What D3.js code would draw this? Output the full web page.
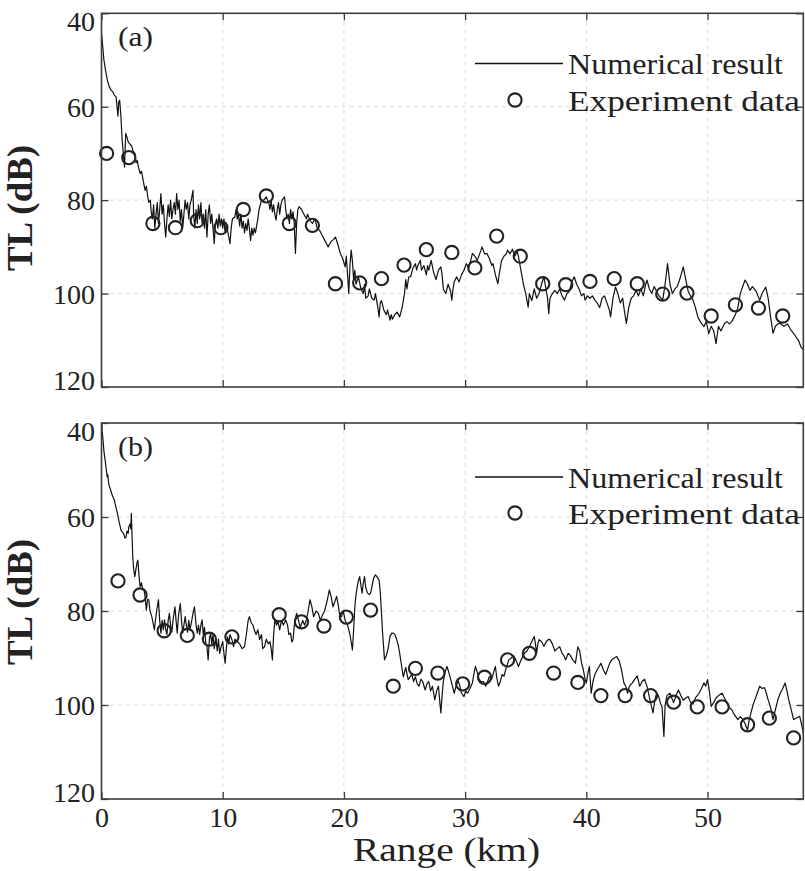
<!DOCTYPE html>
<html><head><meta charset="utf-8">
<script src="https://cdn.jsdelivr.net/npm/d3@7"></script>
<style>
html,body{margin:0;padding:0;background:#fff;}
svg{display:block;}
text{font-family:"Liberation Serif","DejaVu Serif",serif;fill:#222;}
</style>
</head><body>
<svg id="c" width="805" height="871"></svg>
<script>
const xTicks=[0,10,20,30,40,50];
const yTicks=[40,60,80,100,120];
const legendLabels=["Numerical result","Experiment data"];
const panelLabels=["(a)","(b)"];
const xLabel="Range (km)";
const yLabel="TL (dB)";

const numA=[[0,44.3],[0.1,47],[0.2,50],[0.35,52.5],[0.5,54.5],[0.64,55.7],[0.8,56.5],[0.93,56.8],[1.05,57.5],[1.2,57.9],[1.3,60.5],[1.36,62],[1.42,59],[1.5,58.6],[1.6,62],[1.7,67],[1.8,70],[1.9,72.9],[1.95,69],[2.0,65.7],[2.1,66.5],[2.2,67.5],[2.35,68],[2.5,68.5],[2.6,69.5],[2.76,70],[2.85,72],[2.95,71.5],[3.05,73],[3.2,74.3],[3.3,73.8],[3.45,76],[3.6,77.9],[3.7,77],[3.8,79],[3.9,80.5],[4.03,80],[4.1,82.5],[4.2,84],[4.3,81],[4.4,86],[4.5,83],[4.6,80.5],[4.7,85],[4.8,82],[4.9,78.6],[5.0,83],[5.1,81],[5.2,85],[5.3,87.9],[5.4,84],[5.5,81],[5.6,83.5],[5.7,80],[5.8,84],[5.9,82],[6.0,80.5],[6.1,83],[6.2,78.6],[6.3,82],[6.4,80],[6.5,84.5],[6.6,82],[6.7,86],[6.8,83],[6.9,80],[7.0,82],[7.1,80.5],[7.2,84],[7.3,81],[7.4,80],[7.55,77.9],[7.6,83],[7.7,86],[7.8,82],[7.9,85],[8.0,81],[8.1,84],[8.2,80.5],[8.3,85],[8.4,83],[8.5,86],[8.6,82],[8.7,87.9],[8.8,83],[8.9,81],[9.0,85],[9.1,83],[9.2,86],[9.3,89.3],[9.4,85],[9.5,84],[9.6,86],[9.7,83],[9.8,85.5],[9.9,84],[10.0,86],[10.1,84],[10.2,87],[10.3,85],[10.4,86.5],[10.6,89.3],[10.7,86],[10.8,84],[11.0,83.6],[11.1,82],[11.2,84],[11.3,83],[11.4,85.5],[11.5,83],[11.6,86],[11.7,84.5],[11.8,87],[11.9,85],[12.0,86.5],[12.1,84],[12.2,86],[12.3,88.6],[12.4,86],[12.5,87.5],[12.6,86],[12.7,87],[12.9,84],[13.0,82],[13.2,80],[13.4,80],[13.6,79.3],[13.7,80],[13.8,80.5],[13.9,82],[14.0,80],[14.1,82.5],[14.2,81],[14.3,83],[14.4,84.3],[14.5,82],[14.6,80.5],[14.7,83],[14.8,81],[14.9,80],[15.1,79.3],[15.2,82],[15.3,84],[15.4,83],[15.5,85],[15.6,82],[15.7,84],[15.8,82.5],[15.9,85],[16.0,91.4],[16.1,85],[16.2,82],[16.3,81.4],[16.5,82],[16.7,83],[16.9,84],[17.0,83],[17.2,84.3],[17.4,85],[17.6,84],[17.8,86],[18.0,86.5],[18.2,87.5],[18.4,88.5],[18.6,89.5],[18.7,90],[18.9,89],[19.1,88.5],[19.3,87.9],[19.5,89.5],[19.7,91.4],[19.9,92.5],[20.1,94.3],[20.2,92],[20.3,96],[20.4,100],[20.5,94],[20.6,90.7],[20.7,93],[20.8,97],[20.9,95],[21.0,98],[21.2,96.4],[21.4,99],[21.6,100],[21.7,98],[21.8,101],[22.0,100.5],[22.1,99],[22.3,101],[22.5,101.4],[22.6,100],[22.8,103],[22.9,105],[23.0,102],[23.1,101.5],[23.3,103.6],[23.5,104.5],[23.6,103.5],[23.8,105.7],[23.9,104.5],[24.0,105.5],[24.2,104.5],[24.4,104],[24.6,105],[24.8,103],[25.0,100],[25.1,97],[25.2,99],[25.35,96.4],[25.5,96.4],[25.7,94.5],[25.9,93.6],[26.0,95],[26.1,94],[26.3,92.9],[26.4,95],[26.6,94],[26.8,96],[26.9,94],[27.0,95],[27.2,92.9],[27.4,95.5],[27.6,97],[27.8,95],[28.0,94.3],[28.1,96],[28.2,99],[28.4,100],[28.6,98],[28.8,99.5],[28.9,101.4],[29.0,99],[29.1,97.5],[29.3,96.4],[29.5,97.5],[29.7,96],[29.9,95],[30.1,93.6],[30.3,94.5],[30.5,92.5],[30.6,91.4],[30.8,92],[31.0,92.9],[31.2,91.5],[31.4,90],[31.6,91.5],[31.8,91.4],[32.0,92.5],[32.2,94],[32.3,93.6],[32.5,96],[32.7,97.9],[32.8,96],[33.0,93],[33.2,92],[33.4,91.5],[33.5,90.7],[33.7,91.5],[33.9,90.5],[34.1,92],[34.3,91],[34.4,92.1],[34.6,95],[34.8,97.9],[35.0,100],[35.2,102.9],[35.3,100],[35.5,101.5],[35.7,99],[35.9,101],[36.1,100],[36.3,98],[36.5,96.4],[36.6,98],[36.8,101],[36.9,104.3],[37.0,101],[37.2,100],[37.4,99.3],[37.6,100],[37.8,99],[38.0,100.5],[38.2,101.4],[38.4,100],[38.6,99.5],[38.8,97.5],[39.0,96.4],[39.2,98],[39.4,99],[39.6,100.5],[39.8,100],[39.9,101.4],[40.1,100.5],[40.3,101],[40.5,100.5],[40.7,101.4],[40.9,102],[41.1,103],[41.3,101],[41.5,100.5],[41.7,102],[41.9,103.5],[42.0,105],[42.2,101],[42.4,98.6],[42.6,100],[42.8,102],[43.0,101],[43.1,103],[43.3,106.4],[43.5,103],[43.7,101],[43.9,100.5],[44.1,99.3],[44.3,100.5],[44.5,99],[44.7,100.5],[44.9,98],[45.0,97.1],[45.2,99],[45.4,100],[45.6,98.5],[45.8,99.5],[46.0,100.5],[46.3,101.4],[46.5,98],[46.7,93.6],[46.9,98],[47.1,100],[47.3,99],[47.5,98.5],[47.7,97],[48.0,94.3],[48.2,97],[48.4,99.5],[48.6,100.5],[48.8,101.4],[49.0,103],[49.2,105],[49.4,106],[49.7,107.1],[49.9,106],[50.1,108.6],[50.3,107],[50.5,107.9],[50.7,110.7],[50.9,107],[51.1,108],[51.4,106.4],[51.6,106],[51.8,106.5],[52.0,106],[52.3,104.5],[52.5,103],[52.7,100],[52.9,98.5],[53.1,97.1],[53.3,98],[53.5,99.3],[53.7,98.5],[54.0,99.5],[54.3,101.4],[54.5,100],[54.8,98.6],[55.0,101],[55.2,105],[55.4,108.5],[55.6,107],[55.8,106.5],[56.0,106.4],[56.3,107],[56.6,106.5],[56.9,107.9],[57.1,108.5],[57.3,109.3],[57.5,110],[57.7,111.4],[57.9,112]];
const expA=[[0.42,70],[2.25,70.9],[4.24,85],[6.1,85.9],[7.9,84.4],[9.85,85.9],[11.7,82],[13.6,79.1],[15.5,85],[17.4,85.4],[19.3,97.9],[21.3,97.7],[23.1,96.8],[24.96,93.9],[26.8,90.6],[28.9,91.2],[30.8,94.5],[32.6,87.7],[34.55,92],[36.4,97.9],[38.3,98.1],[40.3,97.4],[42.3,96.8],[44.2,97.9],[46.3,100.1],[48.3,99.9],[50.3,104.8],[52.3,102.4],[54.2,103.1],[56.2,104.8]];

const numB=[[0,40.5],[0.06,42],[0.13,43.7],[0.2,46],[0.3,47.9],[0.4,50],[0.47,51.5],[0.52,51],[0.6,53],[0.76,54.3],[0.9,55.5],[1.06,56.4],[1.2,58],[1.31,59.2],[1.45,61],[1.61,62.8],[1.72,63.2],[1.82,63.5],[1.93,64.5],[2.03,64.2],[2.1,63],[2.2,63.5],[2.25,62.1],[2.35,61.5],[2.42,62.5],[2.46,59.2],[2.52,64],[2.58,68.5],[2.65,71],[2.75,72.7],[2.85,71],[2.95,69.5],[3.0,69.2],[3.08,72],[3.18,74.8],[3.3,74],[3.4,75.5],[3.5,75.5],[3.6,77],[3.7,79.8],[3.8,77.5],[3.9,77.6],[4.0,80],[4.15,81.2],[4.25,82.5],[4.36,84],[4.45,82],[4.55,80],[4.7,77.6],[4.8,82],[4.9,84.7],[5.0,82],[5.1,84],[5.2,81.9],[5.3,84],[5.4,85],[5.5,82],[5.6,80.5],[5.7,83],[5.8,84.5],[5.9,82],[6.06,79.1],[6.15,82],[6.25,84.7],[6.35,81],[6.5,78.4],[6.6,82],[6.7,84.7],[6.8,83],[6.9,81.2],[7.0,83],[7.1,84.5],[7.2,82],[7.3,84],[7.45,82],[7.55,80.5],[7.67,79.1],[7.8,83],[7.9,84.7],[8.0,83],[8.1,85],[8.2,83],[8.3,81.9],[8.4,85],[8.5,83.5],[8.6,86.8],[8.7,87.5],[8.8,90.4],[8.9,86],[9.0,84.7],[9.1,87],[9.2,85],[9.3,88],[9.45,86.1],[9.55,88.5],[9.65,86],[9.75,89],[9.87,87.6],[10.0,86.5],[10.1,89],[10.2,91.1],[10.3,88],[10.4,85.5],[10.5,87],[10.6,85],[10.75,86],[10.9,87.6],[11.0,86],[11.2,86.5],[11.4,87],[11.6,88],[11.8,87.6],[11.95,85],[12.1,82],[12.2,81.2],[12.35,82.5],[12.5,83],[12.6,84],[12.75,85],[12.9,84],[13.05,86.1],[13.2,85],[13.3,88],[13.45,87.6],[13.6,86],[13.75,87],[13.9,86.5],[14.0,88],[14.1,90.4],[14.2,85],[14.3,81.9],[14.45,83],[14.55,82],[14.7,84],[14.85,82],[15.0,83],[15.2,81.9],[15.35,83],[15.45,85],[15.6,84.7],[15.7,86.6],[15.8,86.1],[15.95,82],[16.1,80.5],[16.25,82],[16.4,83.5],[16.6,82],[16.75,83],[16.9,81.9],[17.05,80],[17.2,77.6],[17.35,79],[17.5,81.2],[17.7,80],[17.9,80.5],[18.05,82],[18.2,81],[18.4,80],[18.6,78],[18.8,75.5],[18.95,77],[19.1,79.1],[19.25,78],[19.4,76.9],[19.55,79],[19.65,81],[19.8,81.2],[19.95,80],[20.1,82],[20.3,83],[20.5,85],[20.7,88.3],[20.8,84],[20.9,79.1],[21.0,76.5],[21.1,74.8],[21.2,73.5],[21.3,72.7],[21.4,74.5],[21.5,76.2],[21.6,74],[21.7,72.7],[21.8,75],[21.95,76.2],[22.1,76.5],[22.2,76.2],[22.3,75],[22.45,73],[22.6,72.3],[22.75,72.8],[22.9,73.4],[23.0,76],[23.1,80.5],[23.2,85],[23.35,90.4],[23.5,89.5],[23.65,88],[23.8,85.4],[23.95,84.7],[24.07,84.7],[24.2,85],[24.35,86],[24.5,87.5],[24.6,89],[24.75,91.5],[24.9,94],[25.0,93],[25.1,92],[25.3,94.6],[25.45,94],[25.6,93.5],[25.75,95],[25.9,94],[26.05,95.5],[26.2,96],[26.35,94.5],[26.5,95],[26.7,96.8],[26.85,95.5],[27.0,95],[27.15,97],[27.3,96],[27.5,98.9],[27.65,97],[27.8,96],[27.9,99],[28.0,101.7],[28.1,98],[28.2,95],[28.35,93],[28.5,91.8],[28.65,93],[28.8,94.5],[28.95,96],[29.1,97.5],[29.25,96],[29.4,94.8],[29.55,95.8],[29.7,97.5],[29.9,98.2],[30.05,97],[30.2,97.5],[30.4,96.5],[30.6,95.3],[30.75,93],[30.85,91.8],[31.0,93],[31.15,94.5],[31.3,95],[31.5,95],[31.7,96],[31.85,95],[32.0,94],[32.2,94.5],[32.35,93],[32.5,91.8],[32.6,94],[32.75,96],[32.9,95],[33.05,93.5],[33.2,93.9],[33.4,92],[33.6,90.4],[33.8,90],[34.0,89.5],[34.2,90.5],[34.4,91.8],[34.6,90.5],[34.9,89],[35.1,88.5],[35.3,87.6],[35.5,86.5],[35.7,85.4],[35.8,87],[35.9,89],[36.0,87],[36.1,86.1],[36.3,86.5],[36.5,87.5],[36.7,86.5],[36.9,86],[37.0,86.1],[37.2,87],[37.4,88.5],[37.6,88],[37.8,87.6],[38.0,89],[38.15,89.5],[38.3,90.4],[38.5,89],[38.7,89.5],[38.9,90.5],[39.1,91.1],[39.3,87.6],[39.45,88.5],[39.6,91],[39.75,92.5],[39.9,94.5],[40.0,95.3],[40.15,93],[40.25,91.8],[40.4,97.5],[40.55,95],[40.7,93.5],[40.9,92.5],[41.05,91.8],[41.2,91.1],[41.4,92.5],[41.6,93.5],[41.8,92],[41.95,91],[42.1,90.4],[42.3,90],[42.5,89.7],[42.7,90.5],[42.9,92.5],[43.1,95.3],[43.25,96],[43.4,97.5],[43.55,96],[43.8,95.3],[44.0,94.5],[44.2,93.8],[44.4,96],[44.6,95],[44.8,94.5],[45.0,96],[45.25,98.9],[45.5,101.7],[45.65,99],[45.8,97.5],[45.95,98],[46.1,99.5],[46.25,100.5],[46.4,106.7],[46.5,100],[46.65,98],[46.9,97.5],[47.05,98.5],[47.2,99.5],[47.4,98],[47.6,96.8],[47.8,98],[48.0,99],[48.2,98.5],[48.4,98.2],[48.6,99.5],[48.8,99.8],[49.0,98.5],[49.3,97.5],[49.5,96.5],[49.7,95.3],[49.85,96],[50.0,94.6],[50.15,97],[50.3,100.3],[50.5,99.5],[50.7,98.5],[50.9,98],[51.2,97.5],[51.4,98.5],[51.6,99.5],[51.8,100.5],[52.0,101],[52.2,102],[52.5,103.1],[52.7,102.5],[52.9,103],[53.1,104],[53.3,105.3],[53.45,103],[53.6,101.5],[53.75,100],[53.9,98.9],[54.1,97.5],[54.3,96],[54.5,96.5],[54.7,96.3],[54.85,97.5],[55.0,98.9],[55.2,100.5],[55.4,103.1],[55.6,101],[55.8,98.9],[56.0,97.5],[56.2,96.5],[56.4,95.3],[56.55,97],[56.7,98.9],[56.9,101],[57.1,103.1],[57.3,102.8],[57.6,102.4],[57.75,104],[57.9,106]];
const expB=[[1.36,73.6],[3.18,76.6],[5.17,84.2],[7.08,85.2],[8.9,86],[10.76,85.5],[14.66,80.8],[16.5,82.3],[18.35,83.2],[20.2,81.3],[22.2,79.8],[24.07,96],[25.9,92.2],[27.75,93.2],[29.8,95.5],[31.6,94.1],[33.5,90.4],[35.3,89],[37.3,93.2],[39.3,95.2],[41.2,98],[43.2,98],[45.3,98],[47.2,99.4],[49.15,100.4],[51.2,100.4],[53.3,104.2],[55.1,102.8],[57.1,107]];

const svg=d3.select("#c");
const L=101.5,R=803.3;
const panels=[
  {top:13.3,bottom:387,num:numA,exp:expA,label:panelLabels[0],showX:false,lab:{x:118,y:46},leg:{y1:63.5,y2:100},yl:208},
  {top:423,bottom:799,num:numB,exp:expB,label:panelLabels[1],showX:true,lab:{x:118,y:456},leg:{y1:477,y2:513},yl:602}
];
const x=d3.scaleLinear().domain([0,57.9]).range([L,R]);
const axisColor="#3c3c3c";

panels.forEach((p,i)=>{
  const y=d3.scaleLinear().domain([40,120]).range([p.top,p.bottom]);
  const g=svg.append("g");
  g.append("g").selectAll("line").data(xTicks.filter(t=>t>0)).join("line")
    .attr("x1",d=>x(d)).attr("x2",d=>x(d)).attr("y1",p.top).attr("y2",p.bottom)
    .attr("stroke","#d8d8d8").attr("stroke-width",1).attr("stroke-dasharray","4,4");
  g.append("g").selectAll("line").data(yTicks.filter(t=>t>40&&t<120)).join("line")
    .attr("y1",d=>y(d)).attr("y2",d=>y(d)).attr("x1",L).attr("x2",R)
    .attr("stroke","#d8d8d8").attr("stroke-width",1).attr("stroke-dasharray","4,4");
  const cid="clip"+i;
  svg.append("clipPath").attr("id",cid).append("rect").attr("x",L).attr("y",p.top).attr("width",R-L).attr("height",p.bottom-p.top);
  g.append("path").datum(p.num).attr("clip-path","url(#"+cid+")")
    .attr("d",d3.line().x(d=>x(d[0])).y(d=>y(d[1])))
    .attr("fill","none").attr("stroke","#111").attr("stroke-width",1.2).attr("stroke-linejoin","round");
  g.append("g").selectAll("circle").data(p.exp).join("circle")
    .attr("cx",d=>x(d[0])).attr("cy",d=>y(d[1])).attr("r",6.6)
    .attr("fill","none").attr("stroke","#222").attr("stroke-width",2.1);
  const ax=(gen,tr)=>{const a=g.append("g").attr("transform",tr).call(gen);a.select(".domain").remove();a.selectAll("line").attr("stroke",axisColor).attr("stroke-width",1.3);return a;};
  const left=ax(d3.axisLeft(y).tickValues(yTicks).tickSize(-7).tickSizeOuter(0).tickPadding(6.5),`translate(${L},0)`);
  left.selectAll("text").attr("font-size",28).attr("font-family","Liberation Serif, serif").attr("fill","#222")
    .attr("dy",d=>d===40?"0.62em":(d===120?"0.1em":"0.35em"));
  ax(d3.axisRight(y).tickValues(yTicks).tickSize(-7).tickSizeOuter(0).tickFormat(""),`translate(${R},0)`);
  ax(d3.axisTop(x).tickValues(xTicks).tickSize(-7).tickSizeOuter(0).tickFormat(""),`translate(0,${p.top})`);
  const bot=ax(d3.axisBottom(x).tickValues(xTicks).tickSize(-7).tickSizeOuter(0).tickPadding(8).tickFormat(p.showX?d3.format("d"):""),`translate(0,${p.bottom})`);
  bot.selectAll("text").attr("font-size",28).attr("font-family","Liberation Serif, serif").attr("fill","#222");
  g.append("rect").attr("x",L).attr("y",p.top).attr("width",R-L).attr("height",p.bottom-p.top)
    .attr("fill","none").attr("stroke",axisColor).attr("stroke-width",1.6);
  g.append("text").attr("x",p.lab.x).attr("y",p.lab.y).attr("font-size",27).attr("textLength",35).attr("lengthAdjust","spacingAndGlyphs").text(p.label);
  g.append("line").attr("x1",475).attr("x2",563).attr("y1",p.leg.y1).attr("y2",p.leg.y1).attr("stroke","#111").attr("stroke-width",1.3);
  g.append("text").attr("x",568).attr("y",p.leg.y1+10.5).attr("font-size",29).attr("textLength",215).attr("lengthAdjust","spacingAndGlyphs").text(legendLabels[0]);
  g.append("circle").attr("cx",515).attr("cy",p.leg.y2).attr("r",6.6).attr("fill","none").attr("stroke","#222").attr("stroke-width",2.1);
  g.append("text").attr("x",568).attr("y",p.leg.y2+10.5).attr("font-size",29).attr("textLength",232).attr("lengthAdjust","spacingAndGlyphs").text(legendLabels[1]);
  g.append("text").attr("transform",`translate(32,${p.yl}) rotate(-90)`).attr("text-anchor","middle")
    .attr("font-size",36).attr("font-weight","bold").attr("textLength",126).attr("lengthAdjust","spacingAndGlyphs").text(yLabel);
});
svg.append("text").attr("x",446.5).attr("y",861).attr("text-anchor","middle").attr("font-size",33)
  .attr("textLength",187).attr("lengthAdjust","spacingAndGlyphs").text(xLabel);
</script>
</body></html>
